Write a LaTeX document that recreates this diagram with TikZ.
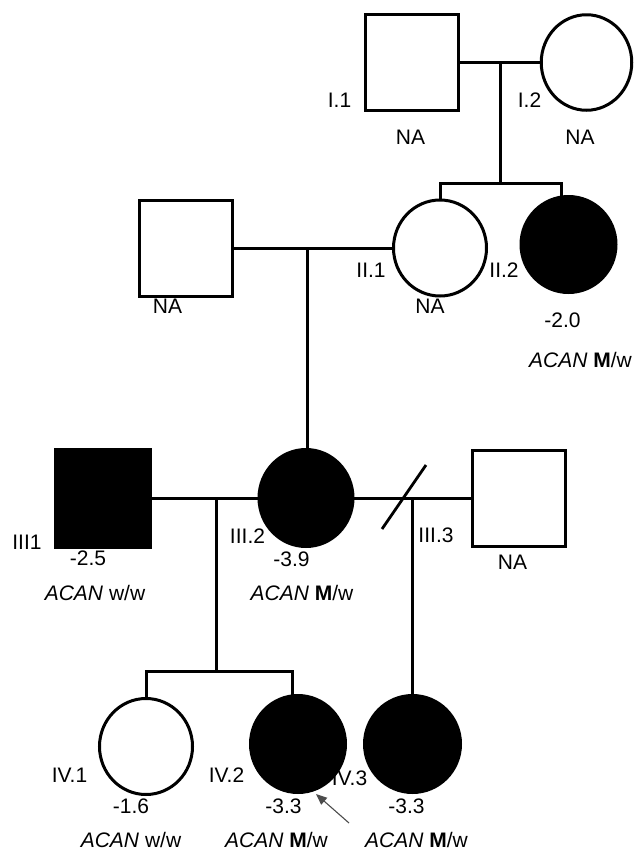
\documentclass[tikz,border=0pt]{standalone}
\usepackage{fontspec}
\setmainfont{Liberation Sans}
\usetikzlibrary{shapes.geometric,arrows.meta,backgrounds}
\begin{document}
\begin{tikzpicture}[x=1pt,y=-1pt,
  ln/.style={line width=3pt,line cap=rect},
  male/.style={draw,line width=3pt,rectangle,minimum width=93pt,minimum height=96pt,inner sep=0pt,fill=white},
  female/.style={draw,line width=3pt,ellipse,minimum width=93pt,minimum height=96pt,inner sep=0pt,fill=white},
  aff/.style={fill=black},
  lab/.style={inner sep=0pt,text height=15pt,text depth=0pt,font=\fontsize{21}{25}\selectfont},
  pointer/.style={draw=black!70,line width=1.1pt,-{Triangle[length=11pt,width=9pt]}},
]
\useasboundingbox (0,0) rectangle (635,852);

% generation I
\node[male] (I1) at (412,62.5) {};
\node[female,minimum width=90.5pt,minimum height=95.5pt] (I2) at (586.5,62.5) {};
% generation II
\node[male] (II0) at (186,248) {};
\node[female] (II1) at (440,248) {};
\node[female,aff,minimum width=95pt] (II2) at (568.5,244.5) {};
% generation III
\node[male,aff,minimum width=95pt,minimum height=98pt] (III1) at (103,498) {};
\node[female,aff,minimum width=94pt,minimum height=97pt] (III2) at (306,498) {};
\node[male] (III3) at (519,498) {};
% generation IV
\node[female] (IV1) at (146,746.5) {};
\node[female,aff,minimum width=95pt,minimum height=97pt] (IV2) at (298,744) {};
\node[female,aff,minimum width=96pt,minimum height=97pt] (IV3) at (412.5,744) {};

% connectors (behind the symbols)
\begin{scope}[on background layer]
  \coordinate (m1) at (500,62.5);
  \coordinate (s1) at (500,183);
  \coordinate (s1l) at (440,183);
  \coordinate (s1r) at (561,183);
  \draw[ln] (I1) -- (I2);
  \draw[ln] (m1) -- (s1);
  \draw[ln] (II1.north) -- (s1l) -- (s1r) -- (s1r |- II2.center);

  \coordinate (m2) at (307,248);
  \draw[ln] (II0) -- (II1);
  \draw[ln] (m2) -- (III2.north -| m2);

  \coordinate (m3) at (216,498);
  \coordinate (s3) at (216,671);
  \coordinate (s3l) at (146,671);
  \coordinate (s3r) at (292,671);
  \draw[ln] (III1) -- (III2);
  \draw[ln] (m3) -- (s3);
  \draw[ln] (IV1.north) -- (s3l) -- (s3r) -- (s3r |- IV2.center);

  \coordinate (m4) at (412,498);
  \draw[ln] (III2) -- (III3);
  \draw[ln] (m4) -- (IV3.center -| m4);

  \node[lab] (lIV3) at (349.5,778) {IV.3};
\end{scope}

% separation slash
\coordinate (sl1) at (382,529);
\coordinate (sl2) at (426,465);
\draw[line width=2.8pt] (sl1) -- (sl2);

% proband arrow
\coordinate (arS) at (349,823);
\coordinate (arT) at (316,794);
\draw[pointer] (arS) -- (arT);

% labels generation I
\node[lab] (lI1) at (339.5,100) {I.1};
\node[lab] (nI1) at (410.5,137) {NA};
\node[lab] (lI2) at (529.5,100) {I.2};
\node[lab] (nI2) at (580,137) {NA};
% labels generation II
\node[lab] (nII0) at (167.5,306) {NA};
\node[lab] (lII1) at (371,270) {II.1};
\node[lab] (nII1) at (430,306) {NA};
\node[lab] (lII2) at (504,270) {II.2};
\node[lab] (vII2) at (562.5,320) {-2.0};
\node[lab] (gII2) at (580.5,360) {\textit{ACAN} \textbf{M}/w};
% labels generation III
\node[lab] (lIII1) at (27,542) {III1};
\node[lab] (vIII1) at (88,558) {-2.5};
\node[lab] (gIII1) at (95,593) {\textit{ACAN} w/w};
\node[lab] (lIII2) at (247.5,536) {III.2};
\node[lab] (vIII2) at (291.5,559) {-3.9};
\node[lab] (gIII2) at (302,593) {\textit{ACAN} \textbf{M}/w};
\node[lab] (lIII3) at (436,535) {III.3};
\node[lab] (nIII3) at (512.5,562) {NA};
% labels generation IV
\node[lab] (lIV1) at (69.5,775) {IV.1};
\node[lab] (vIV1) at (131,806) {-1.6};
\node[lab] (gIV1) at (131,840) {\textit{ACAN} w/w};
\node[lab] (lIV2) at (226.5,775) {IV.2};
\node[lab] (vIV2) at (283.5,806) {-3.3};
\node[lab] (gIV2) at (276.5,840) {\textit{ACAN} \textbf{M}/w};
\node[lab] (vIV3) at (406.5,806) {-3.3};
\node[lab] (gIV3) at (416.5,840) {\textit{ACAN} \textbf{M}/w};
\end{tikzpicture}
\end{document}
